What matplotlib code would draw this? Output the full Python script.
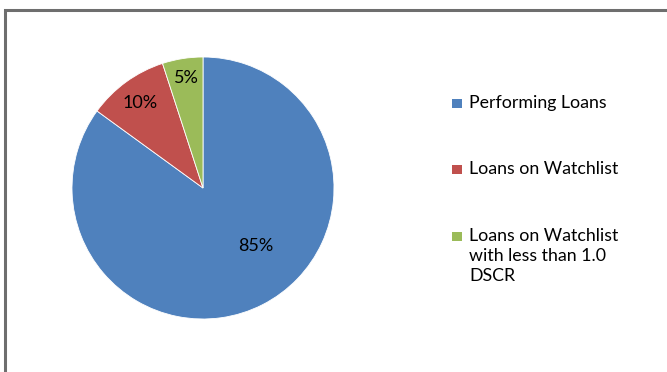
import matplotlib.pyplot as plt
from matplotlib.patches import Rectangle

# loan breakdown (percent of total)
labels = ['Performing Loans', 'Loans on Watchlist', 'Loans on Watchlist\nwith less than 1.0\nDSCR']
shares = [85, 10, 5]
colors = ['#4F81BD', '#C0504D', '#9BBB59']
# where each percentage label sits inside the pie (data coords)
label_pos = [(0.40, -0.44), (-0.48, 0.65), (-0.13, 0.84)]

plt.rcParams['font.family'] = ['Lato', 'DejaVu Sans']

fig = plt.figure(figsize=(6.67, 3.72), dpi=100)
W, H = 667, 372

# grey frame round the chart area
fig.patches.append(Rectangle((4.5 / W, -0.1), 1.2, (H - 10) / H + 0.1,
                             transform=fig.transFigure, fill=False,
                             edgecolor='#6e6e6e', linewidth=2.2))

ax = fig.add_axes([72 / W, (H - 319) / H, 262 / W, 262 / H])
wedges, _ = ax.pie(shares, colors=colors, startangle=90, counterclock=False,
                   wedgeprops=dict(edgecolor='white', linewidth=0.6))
for v, (x, y) in zip(shares, label_pos):
    ax.text(x, y, f'{v}%', ha='center', va='center', fontsize=13, color='black')
ax.set_xlim(-1, 1)
ax.set_ylim(-1, 1)
ax.set_aspect('equal')
ax.axis('off')

# legend drawn by hand so the swatch lines up with the first text line
legend_base = [108, 174, 241]
line_step = 20
for lab, c, y in zip(labels, colors, legend_base):
    fig.patches.append(Rectangle((452 / W, (H - y) / H), 10 / W, 9 / H,
                                 transform=fig.transFigure, facecolor=c, edgecolor='none'))
    for i, line in enumerate(lab.split('\n')):
        fig.text(469 / W, (H - y - i * line_step) / H, line, ha='left', va='baseline',
                 fontsize=12.8, transform=fig.transFigure)

fig.savefig('out.png', dpi=100)
